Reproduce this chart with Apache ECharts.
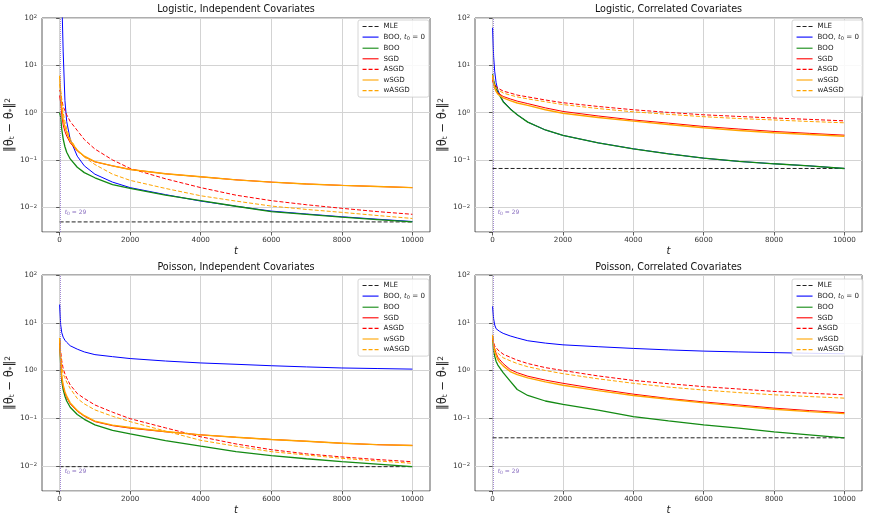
<!DOCTYPE html>
<html>
<head>
<meta charset="utf-8">
<script src="https://cdn.jsdelivr.net/npm/echarts@6.0.0/dist/echarts.min.js"></script>
<style>
  html, body { margin: 0; padding: 0; background: #fff; }
  #chart { width: 869px; height: 519px; }
</style>
</head>
<body>
<div id="chart"></div>
<script>
// iteration grid shared by every curve
const T = [0, 30, 60, 100, 150, 200, 300, 500, 700, 1000, 1500, 2000, 3000, 4000, 5000, 6000, 7000, 8000, 9000, 10000]
const xTicks = [0, 2000, 4000, 6000, 8000, 10000]
const T0 = 29
const names = ['MLE', 'BOO, t0 = 0', 'BOO', 'SGD', 'ASGD', 'wSGD', 'wASGD']
const titles = ['Logistic, Independent Covariates', 'Logistic, Correlated Covariates',
  'Poisson, Independent Covariates', 'Poisson, Correlated Covariates']

// Logistic, independent
const liMLE = 0.0049
const liBOO0 = [null, 3000, 300, 20, 1.8, 0.65, 0.27, 0.12, 0.075, 0.05, 0.034, 0.026, 0.0185, 0.0135, 0.0105, 0.0083, 0.0072, 0.0063, 0.0056, 0.005]
const liBOO = [1.0, 0.8, 0.45, 0.28, 0.19, 0.145, 0.105, 0.07, 0.054, 0.042, 0.03, 0.025, 0.018, 0.0138, 0.0105, 0.0081, 0.0071, 0.0062, 0.0055, 0.0049]
const liSGD = [2.3, 1.6, 0.9, 0.55, 0.4, 0.32, 0.23, 0.155, 0.118, 0.091, 0.075, 0.063, 0.051, 0.044, 0.038, 0.034, 0.031, 0.029, 0.0275, 0.026]
const liASGD = [3.0, 2.6, 1.9, 1.35, 1.1, 0.9, 0.65, 0.42, 0.27, 0.17, 0.1, 0.066, 0.04, 0.026, 0.018, 0.0138, 0.0113, 0.0095, 0.0081, 0.0071]
const liWSGD = [6.0, 2.5, 1.3, 0.72, 0.5, 0.38, 0.25, 0.16, 0.12, 0.092, 0.075, 0.063, 0.051, 0.044, 0.038, 0.034, 0.031, 0.029, 0.0275, 0.026]
const liWASGD = [4.0, 2.8, 1.6, 1.0, 0.65, 0.45, 0.28, 0.16, 0.115, 0.08, 0.05, 0.037, 0.025, 0.0175, 0.0135, 0.0106, 0.009, 0.0078, 0.0067, 0.0058]

// Logistic, correlated
const lcMLE = 0.066
const lcBOO0 = [62, 15, 7.5, 4.3, 3.0, 2.45, 1.75, 1.22, 0.9, 0.63, 0.43, 0.33, 0.23, 0.172, 0.135, 0.109, 0.093, 0.083, 0.075, 0.066]
const lcBOO = [6.5, 4.8, 4.0, 3.3, 2.7, 2.3, 1.7, 1.2, 0.9, 0.63, 0.43, 0.33, 0.23, 0.172, 0.135, 0.109, 0.093, 0.083, 0.075, 0.066]
const lcSGD = [4.8, 4.0, 3.3, 2.9, 2.6, 2.45, 2.2, 1.95, 1.75, 1.55, 1.26, 1.06, 0.85, 0.7, 0.6, 0.51, 0.45, 0.4, 0.365, 0.334]
const lcASGD = [5.0, 4.3, 3.9, 3.6, 3.3, 3.1, 2.85, 2.6, 2.35, 2.15, 1.85, 1.62, 1.35, 1.15, 1.01, 0.9, 0.83, 0.77, 0.72, 0.67]
const lcWSGD = [6.3, 4.2, 3.3, 2.8, 2.45, 2.25, 2.05, 1.8, 1.6, 1.42, 1.15, 0.97, 0.79, 0.66, 0.56, 0.48, 0.42, 0.375, 0.345, 0.316]
const lcWASGD = [6.0, 4.2, 3.6, 3.3, 3.05, 2.85, 2.6, 2.35, 2.15, 1.95, 1.7, 1.48, 1.22, 1.04, 0.92, 0.82, 0.75, 0.7, 0.65, 0.61]

// Poisson, independent
const piMLE = 0.0097
const piBOO0 = [24, 9, 6.2, 5.0, 4.3, 3.9, 3.3, 2.8, 2.45, 2.15, 1.95, 1.78, 1.58, 1.44, 1.35, 1.26, 1.19, 1.13, 1.1, 1.07]
const piBOO = [4.8, 1.3, 0.6, 0.4, 0.29, 0.23, 0.17, 0.12, 0.095, 0.073, 0.056, 0.047, 0.034, 0.026, 0.02, 0.0165, 0.0142, 0.0124, 0.011, 0.0097]
const piSGD = [4.5, 1.5, 0.7, 0.47, 0.34, 0.27, 0.2, 0.14, 0.11, 0.085, 0.07, 0.062, 0.052, 0.045, 0.04, 0.036, 0.033, 0.03, 0.028, 0.027]
const piASGD = [4.2, 2.5, 1.6, 1.1, 0.85, 0.7, 0.5, 0.33, 0.26, 0.19, 0.134, 0.098, 0.063, 0.041, 0.029, 0.022, 0.018, 0.0155, 0.0137, 0.0123]
const piWSGD = [4.8, 1.6, 0.75, 0.5, 0.36, 0.29, 0.21, 0.145, 0.113, 0.087, 0.072, 0.064, 0.053, 0.045, 0.04, 0.036, 0.033, 0.03, 0.028, 0.027]
const piWASGD = [4.5, 2.0, 1.2, 0.85, 0.7, 0.57, 0.42, 0.26, 0.2, 0.15, 0.11, 0.085, 0.054, 0.0345, 0.026, 0.02, 0.017, 0.0145, 0.0128, 0.0114]

// Poisson, correlated
const pcMLE = 0.039
const pcBOO0 = [22, 12, 9, 7.5, 7.0, 6.6, 6.0, 5.3, 4.8, 4.2, 3.75, 3.45, 3.15, 2.9, 2.7, 2.55, 2.45, 2.37, 2.3, 2.24]
const pcBOO = [5.2, 2.6, 2.0, 1.55, 1.3, 1.15, 0.9, 0.6, 0.4, 0.3, 0.23, 0.195, 0.148, 0.108, 0.088, 0.073, 0.062, 0.052, 0.045, 0.039]
const pcSGD = [5.0, 3.5, 2.8, 2.3, 1.9, 1.7, 1.4, 1.05, 0.9, 0.76, 0.63, 0.54, 0.41, 0.32, 0.26, 0.22, 0.19, 0.163, 0.145, 0.131]
const pcASGD = [5.0, 3.8, 3.3, 3.0, 2.7, 2.5, 2.2, 1.9, 1.65, 1.4, 1.15, 1.0, 0.77, 0.62, 0.53, 0.46, 0.41, 0.365, 0.335, 0.31]
const pcWSGD = [5.5, 3.2, 2.5, 2.05, 1.7, 1.5, 1.25, 0.95, 0.82, 0.7, 0.58, 0.49, 0.38, 0.3, 0.25, 0.21, 0.18, 0.155, 0.138, 0.125]
const pcWASGD = [5.3, 3.4, 2.9, 2.6, 2.3, 2.1, 1.85, 1.6, 1.4, 1.2, 1.0, 0.86, 0.67, 0.54, 0.45, 0.39, 0.345, 0.31, 0.285, 0.264]

const panels = [
  [liMLE, liBOO0, liBOO, liSGD, liASGD, liWSGD, liWASGD],
  [lcMLE, lcBOO0, lcBOO, lcSGD, lcASGD, lcWSGD, lcWASGD],
  [piMLE, piBOO0, piBOO, piSGD, piASGD, piWSGD, piWASGD],
  [pcMLE, pcBOO0, pcBOO, pcSGD, pcASGD, pcWSGD, pcWASGD]
]

const grids = [
  { left: 42, top: 18, width: 388, height: 214 },
  { left: 475, top: 18, width: 387, height: 214 },
  { left: 42, top: 275, width: 388, height: 216 },
  { left: 475, top: 275, width: 387, height: 216 }
]

const styles = [
  { color: '#222222', type: [4, 2], width: 1 },
  { color: '#0000ff', type: 'solid', width: 1 },
  { color: '#138a13', type: 'solid', width: 1.3 },
  { color: '#ff0000', type: 'solid', width: 1 },
  { color: '#ff0000', type: [4, 2], width: 1 },
  { color: '#ffa500', type: 'solid', width: 1.4 },
  { color: '#ffa500', type: [4, 2], width: 1 }
]

const subRich = {
  n: { fontSize: 7.1, color: '#222' },
  i: { fontSize: 7.1, color: '#222', fontStyle: 'italic' },
  sb: { fontSize: 5, color: '#222', verticalAlign: 'bottom', padding: [3, 0, 0, 0] }
}

function pairs (vals) {
  return T.map((t, i) => [t, vals[i]]).filter(p => p[1] != null)
}

function yFmt (v) {
  const e = Math.log10(v)
  const r = Math.round(e)
  if (Math.abs(e - r) > 1e-6) return ''
  return '{b|10}{s|' + (r < 0 ? '\u2212' + (-r) : r) + '}'
}

const series = []
panels.forEach((p, k) => {
  names.forEach((name, j) => {
    const data = j === 0 ? [[T[0], p[0]], [T[T.length - 1], p[0]]] : pairs(p[j])
    const s = {
      name: name,
      type: 'line',
      xAxisIndex: k,
      yAxisIndex: k,
      data: data,
      symbol: 'none',
      showSymbol: false,
      clip: true,
      lineStyle: styles[j],
      itemStyle: { color: styles[j].color },
      emphasis: { disabled: true }
    }
    if (j === 0) {
      s.markLine = {
        silent: true,
        symbol: 'none',
        label: { show: false },
        lineStyle: { color: 'rgba(140,110,200,0.8)', type: 'dotted', width: 1 },
        data: [{ xAxis: T0 }]
      }
      s.markPoint = {
        silent: true,
        symbol: 'circle',
        symbolSize: 0.1,
        itemStyle: { color: 'transparent' },
        label: {
          show: true,
          position: 'right',
          distance: 4,
          formatter: '{i|t}{sb|0}{n| = ' + T0 + '}',
          rich: {
            n: { fontSize: 6, color: '#8a6fc0' },
            i: { fontSize: 6, color: '#8a6fc0', fontStyle: 'italic' },
            sb: { fontSize: 4.5, color: '#8a6fc0', verticalAlign: 'bottom', padding: [2, 0, 0, 0] }
          }
        },
        data: [{ coord: [T0, 0.0077] }]
      }
    }
    series.push(s)
  })
})

const chart = echarts.init(document.getElementById('chart'))
chart.setOption({
  animation: false,
  backgroundColor: '#fff',
  textStyle: { fontFamily: 'DejaVu Sans' },
  title: titles.map((text, k) => ({
    text: text,
    left: grids[k].left + grids[k].width / 2,
    top: k < 2 ? 4 : 262,
    textAlign: 'center',
    padding: 0,
    textStyle: { fontSize: 9.6, fontWeight: 'normal', color: '#111', fontFamily: 'DejaVu Sans' }
  })),
  legend: grids.map((g, k) => ({
    orient: 'vertical',
    left: k % 2 === 0 ? 358 : 792,
    top: k < 2 ? 20 : 279,
    data: names,
    selectedMode: false,
    itemWidth: 16,
    itemHeight: 7,
    itemGap: 3.6,
    padding: [3, 4, 3, 4],
    backgroundColor: 'rgba(255,255,255,0.85)',
    borderColor: '#cccccc',
    borderWidth: 0.8,
    borderRadius: 2,
    itemStyle: { opacity: 0, borderWidth: 0 },
    lineStyle: { width: 1.1 },
    textStyle: { fontSize: 7.1, color: '#222', rich: subRich },
    formatter: name => name === 'BOO, t0 = 0' ? '{n|BOO, }{i|t}{sb|0}{n| = 0}' : name
  })),
  grid: grids.map(g => Object.assign({
    show: true,
    borderColor: '#333',
    borderWidth: 0.8,
    backgroundColor: 'transparent',
    containLabel: false
  }, g)),
  xAxis: grids.map((g, k) => ({
    gridIndex: k,
    type: 'value',
    min: -500,
    max: 10500,
    name: 't',
    nameLocation: 'middle',
    nameGap: 14,
    nameTextStyle: { fontSize: 10, fontStyle: 'italic', color: '#222' },
    axisLine: { show: false },
    axisTick: { show: true, length: 3.5, lineStyle: { color: '#333', width: 0.8 }, customValues: xTicks },
    axisLabel: { customValues: xTicks, fontSize: 7.2, color: '#333', margin: 5, formatter: v => String(v) },
    splitLine: { show: true, lineStyle: { color: '#d3d3d3', width: 1 } }
  })),
  yAxis: grids.map((g, k) => ({
    gridIndex: k,
    type: 'log',
    logBase: 10,
    min: 0.003,
    max: 100,
    name: '{a|\u2016\u03b8}{s|t}{a| \u2212 \u03b8}{s|*}{a|\u2016}{p|2}',
    nameLocation: 'middle',
    nameGap: 1,
    nameRotate: 90,
    nameTextStyle: {
      color: '#222',
      rich: {
        a: { fontSize: 11.5, color: '#222' },
        s: { fontSize: 7.5, color: '#222', verticalAlign: 'bottom' },
        p: { fontSize: 7.5, color: '#222', verticalAlign: 'top' }
      }
    },
    axisLine: { show: false },
    axisTick: { show: true, length: 3.5, lineStyle: { color: '#333', width: 0.8 } },
    axisLabel: {
      formatter: yFmt,
      margin: 5,
      color: '#333',
      rich: {
        b: { fontSize: 7.4, color: '#333' },
        s: { fontSize: 5.2, color: '#333', verticalAlign: 'top' }
      }
    },
    splitLine: { show: true, lineStyle: { color: '#d3d3d3', width: 1 } }
  })),
  series: series
})
</script>
</body>
</html>
